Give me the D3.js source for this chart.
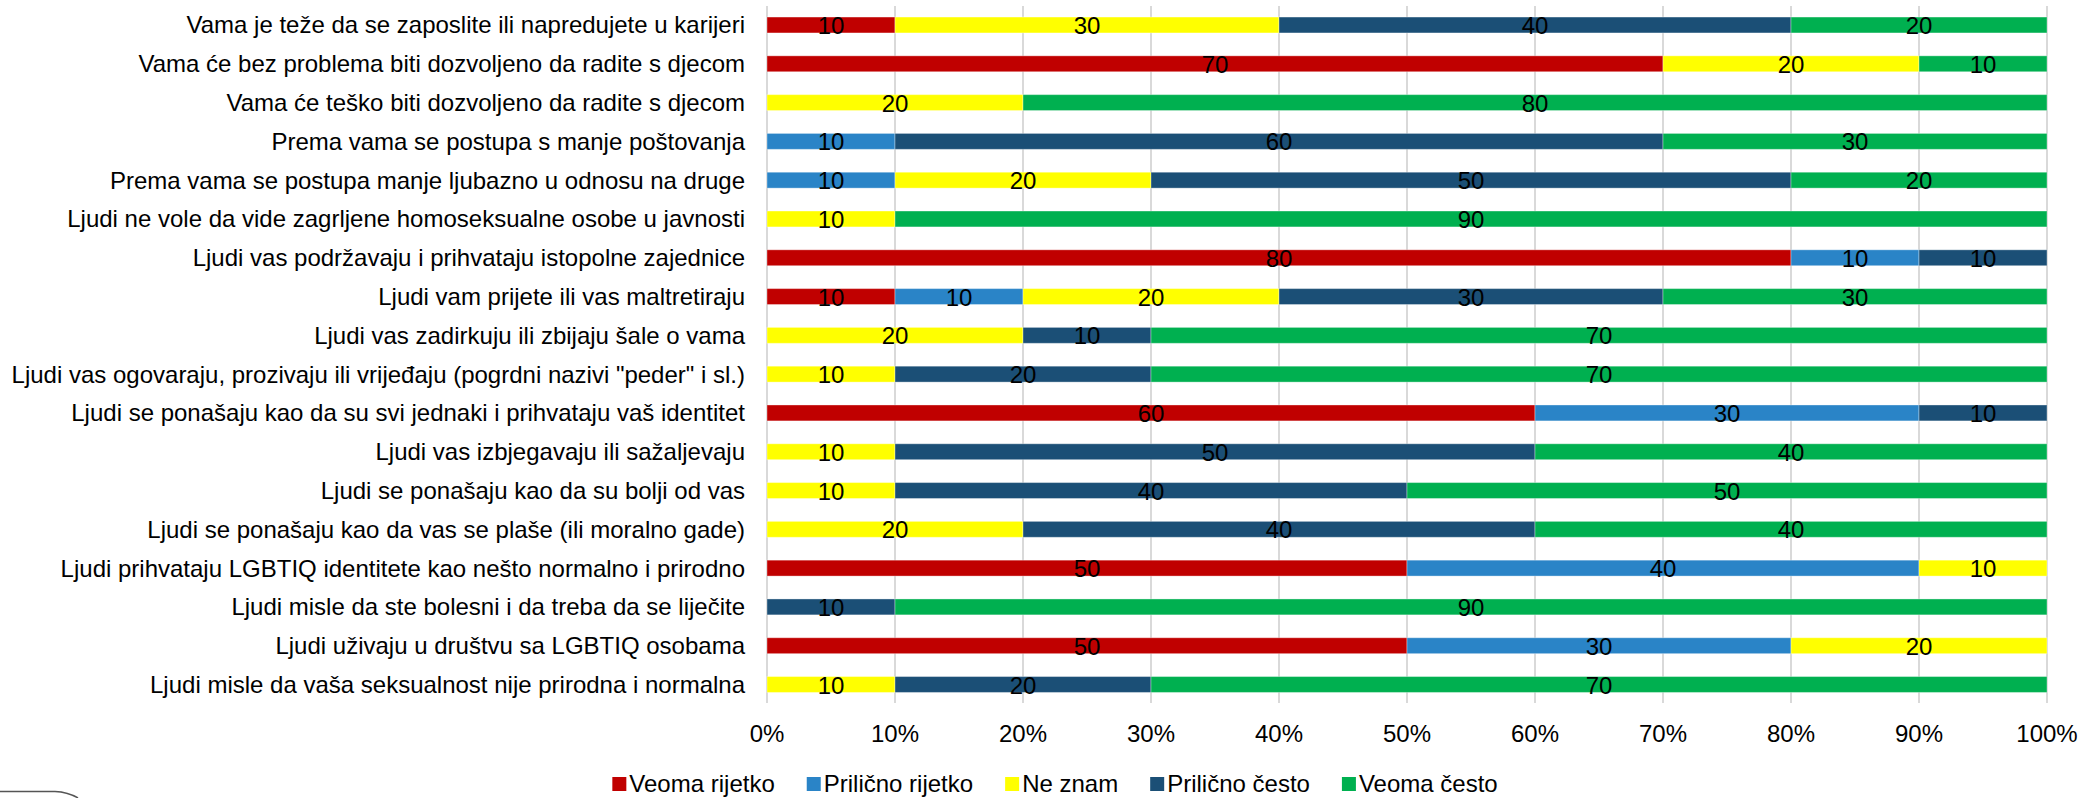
<!DOCTYPE html>
<html>
<head>
<meta charset="utf-8">
<script src="https://cdn.jsdelivr.net/npm/d3@7"></script>
<style>
  body { margin: 0; background: #fff; }
  svg text { font-family: "Liberation Sans", Arial, sans-serif; fill: #000; }
</style>
</head>
<body>
<svg id="chart" width="2094" height="798"></svg>
<script>
// categories, top to bottom
const questions = [
  "Vama je teže da se zaposlite ili napredujete u karijeri",
  "Vama će bez problema biti dozvoljeno da radite s djecom",
  "Vama će teško biti dozvoljeno da radite s djecom",
  "Prema vama se postupa s manje poštovanja",
  "Prema vama se postupa manje ljubazno u odnosu na druge",
  "Ljudi ne vole da vide zagrljene homoseksualne osobe u javnosti",
  "Ljudi vas podržavaju i prihvataju istopolne zajednice",
  "Ljudi vam prijete ili vas maltretiraju",
  "Ljudi vas zadirkuju ili zbijaju šale o vama",
  "Ljudi vas ogovaraju, prozivaju ili vrijeđaju (pogrdni nazivi \"peder\" i sl.)",
  "Ljudi se ponašaju kao da su svi jednaki i prihvataju vaš identitet",
  "Ljudi vas izbjegavaju ili sažaljevaju",
  "Ljudi se ponašaju kao da su bolji od vas",
  "Ljudi se ponašaju kao da vas se plaše (ili moralno gade)",
  "Ljudi prihvataju LGBTIQ identitete kao nešto normalno i prirodno",
  "Ljudi misle da ste bolesni i da treba da se liječite",
  "Ljudi uživaju u društvu sa LGBTIQ osobama",
  "Ljudi misle da vaša seksualnost nije prirodna i normalna"
];

const seriesNames = ["Veoma rijetko", "Prilično rijetko", "Ne znam", "Prilično često", "Veoma često"];
const seriesColors = ["#C00000", "#2A84C7", "#FFFF00", "#1B4F76", "#00B050"];

// one array per series, same order as questions
const veomaRijetko    = [10, 70, 0, 0, 0, 0, 80, 10, 0, 0, 60, 0, 0, 0, 50, 0, 50, 0];
const prilicnoRijetko = [0, 0, 0, 10, 10, 0, 10, 10, 0, 0, 30, 0, 0, 0, 40, 0, 30, 0];
const neZnam          = [30, 20, 20, 0, 20, 10, 0, 20, 20, 10, 0, 10, 10, 20, 10, 0, 20, 10];
const prilicnoCesto   = [40, 0, 0, 60, 50, 0, 10, 30, 10, 20, 10, 50, 40, 40, 0, 10, 0, 20];
const veomaCesto      = [20, 10, 80, 30, 20, 90, 0, 30, 70, 70, 0, 40, 50, 40, 0, 90, 0, 70];

const xTicks = [0, 10, 20, 30, 40, 50, 60, 70, 80, 90, 100];

// build rows for the stack
const seriesValues = [veomaRijetko, prilicnoRijetko, neZnam, prilicnoCesto, veomaCesto];
const rows = questions.map((q, i) => {
  const r = { q: q };
  seriesNames.forEach((s, j) => r[s] = seriesValues[j][i]);
  return r;
});

const stacked = d3.stack().keys(seriesNames)(rows);

const svg = d3.select("#chart");

const x = d3.scaleLinear().domain([0, 100]).range([767, 2047]);
const y = d3.scaleBand().domain(questions).range([5.6, 703.9]).paddingInner(0.59).paddingOuter(0.295);
const color = d3.scaleOrdinal().domain(seriesNames).range(seriesColors);

// gridlines
svg.append("g")
  .selectAll("line")
  .data(xTicks)
  .join("line")
  .attr("x1", d => x(d)).attr("x2", d => x(d))
  .attr("y1", 6).attr("y2", 703)
  .attr("stroke", "#D9D9D9")
  .attr("stroke-width", 2);

// bars
const layers = svg.append("g")
  .selectAll("g")
  .data(stacked)
  .join("g")
  .attr("fill", d => color(d.key));

layers.selectAll("rect")
  .data(d => d)
  .join("rect")
  .attr("x", d => x(d[0]))
  .attr("y", d => y(d.data.q))
  .attr("width", d => x(d[1]) - x(d[0]))
  .attr("height", y.bandwidth())
  .attr("stroke", "rgba(255,255,255,0.35)")
  .attr("stroke-width", 1);

// value labels
layers.selectAll("text")
  .data(d => d.filter(v => v[1] - v[0] > 0))
  .join("text")
  .attr("x", d => x((d[0] + d[1]) / 2))
  .attr("y", d => y(d.data.q) + y.bandwidth() / 2 + 9)
  .attr("text-anchor", "middle")
  .style("font-size", "24px")
  .text(d => d[1] - d[0]);

// category labels
svg.append("g")
  .selectAll("text")
  .data(questions)
  .join("text")
  .attr("x", 745)
  .attr("y", d => y(d) + y.bandwidth() / 2 + 8.5)
  .attr("text-anchor", "end")
  .style("font-size", "24px")
  .text(d => d);

// x axis tick labels
svg.append("g")
  .selectAll("text")
  .data(xTicks)
  .join("text")
  .attr("x", d => x(d))
  .attr("y", 742)
  .attr("text-anchor", "middle")
  .style("font-size", "24px")
  .text(d => d + "%");

// legend
const legend = svg.append("g");
const items = legend.selectAll("g")
  .data(seriesNames)
  .join("g");
items.append("rect")
  .attr("width", 14).attr("height", 14)
  .attr("y", 777)
  .attr("fill", d => color(d));
items.append("text")
  .attr("x", 17)
  .attr("y", 792)
  .style("font-size", "24px")
  .text(d => d);

let cx = 0;
const gap = 32;
items.each(function () {
  const w = 17 + d3.select(this).select("text").node().getComputedTextLength();
  d3.select(this).attr("transform", `translate(${cx},0)`);
  cx += w + gap;
});
const total = cx - gap;
legend.attr("transform", `translate(${1055 - total / 2},0)`);

// corner of a rounded frame visible at bottom left
svg.append("path")
  .attr("d", "M0,791.5 H55 Q68,792 78,798")
  .attr("fill", "none")
  .attr("stroke", "#555")
  .attr("stroke-width", 1.5);
</script>
</body>
</html>
